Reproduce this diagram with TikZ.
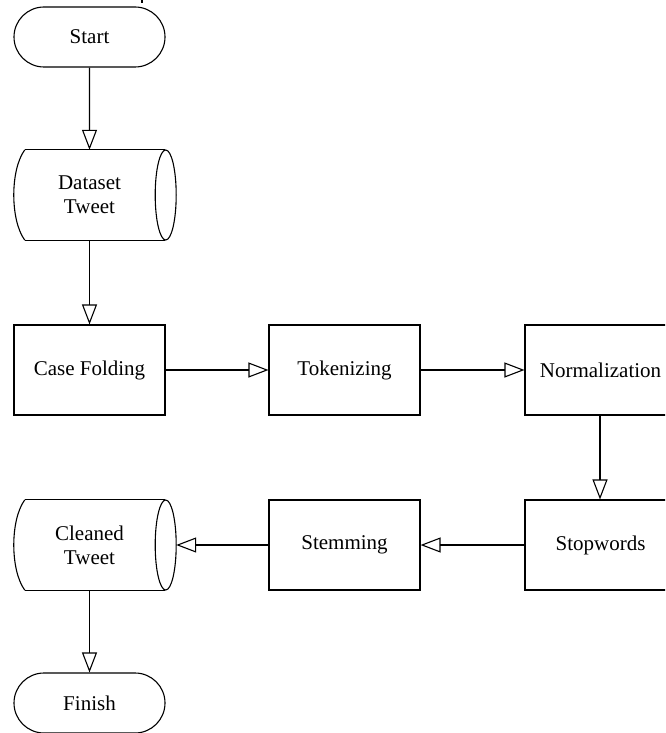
\documentclass[tikz,border=0pt]{standalone}
\usepackage{fontspec}
\setmainfont{Liberation Serif}
\newfontfamily\diagfont{Liberation Serif}
\usetikzlibrary{shapes.misc,arrows.meta,calc}
\tikzset{
  every node/.style={font=\diagfont\fontsize{21}{24}\selectfont},
  proc/.style={draw, line width=1.1pt, rectangle, minimum width=151pt, minimum height=90pt, inner sep=0pt, align=center},
  term/.style={draw, line width=1.1pt, rounded rectangle, minimum width=151pt, minimum height=60pt, inner sep=0pt},
  store/.style={rectangle, minimum width=151pt, minimum height=90pt, inner sep=0pt, align=center},
  storeline/.style={line width=1.1pt},
  flow/.style={line width=1.1pt, -{Triangle[open,length=20pt,width=15pt,line width=1.1pt]}}
}
\newcommand{\storeshape}[1]{%
  \draw[storeline] ($(#1.north west)+(11,0)$) -- (#1.north east);
  \draw[storeline] ($(#1.south west)+(11,0)$) -- (#1.south east);
  \draw[storeline] ($(#1.north west)+(11,0)$) .. controls ($(#1.north west)+(-3.7,20)$) and ($(#1.south west)+(-3.7,-20)$) .. ($(#1.south west)+(11,0)$);
  \draw[storeline] ($(#1.east)+(0.5,0)$) ellipse [x radius=10.5pt, y radius=45pt];
}
\begin{document}
\begin{tikzpicture}[x=1pt,y=-1pt]
\useasboundingbox (0,0) rectangle (665,733);
\clip (0,0) rectangle (665,733);
\fill[white] (0,0) rectangle (665,733);
\draw[line width=1.1pt] (142,0) -- (142,3);
\node[term] (start) at (89.5,37) {Start};
\node[store] (data) at (89.5,195) {Dataset\\Tweet};
\storeshape{data}
\node[proc] (case) at (89.5,370) {Case Folding};
\node[proc] (tok) at (344.5,370) {Tokenizing};
\node[proc] (norm) at (600.5,370) {Normalization};
\node[proc] (stop) at (600.5,545) {Stopwords};
\node[proc] (stem) at (344.5,545) {Stemming};
\node[store] (clean) at (89.5,545) {Cleaned\\Tweet};
\storeshape{clean}
\coordinate (cleanR) at ($(clean.east)+(11,0)$);
\node[term] (finish) at (89.5,703) {Finish};
\draw[flow] (start) -- (data);
\draw[flow] (data) -- (case);
\draw[flow] (case) -- (tok);
\draw[flow] (tok) -- (norm);
\draw[flow] (norm.south -| 600,0) -- (stop.north -| 600,0);
\draw[flow] (stop) -- (stem);
\draw[flow] (stem.west) -- (cleanR);
\draw[flow] (clean) -- (finish);
\end{tikzpicture}
\end{document}
